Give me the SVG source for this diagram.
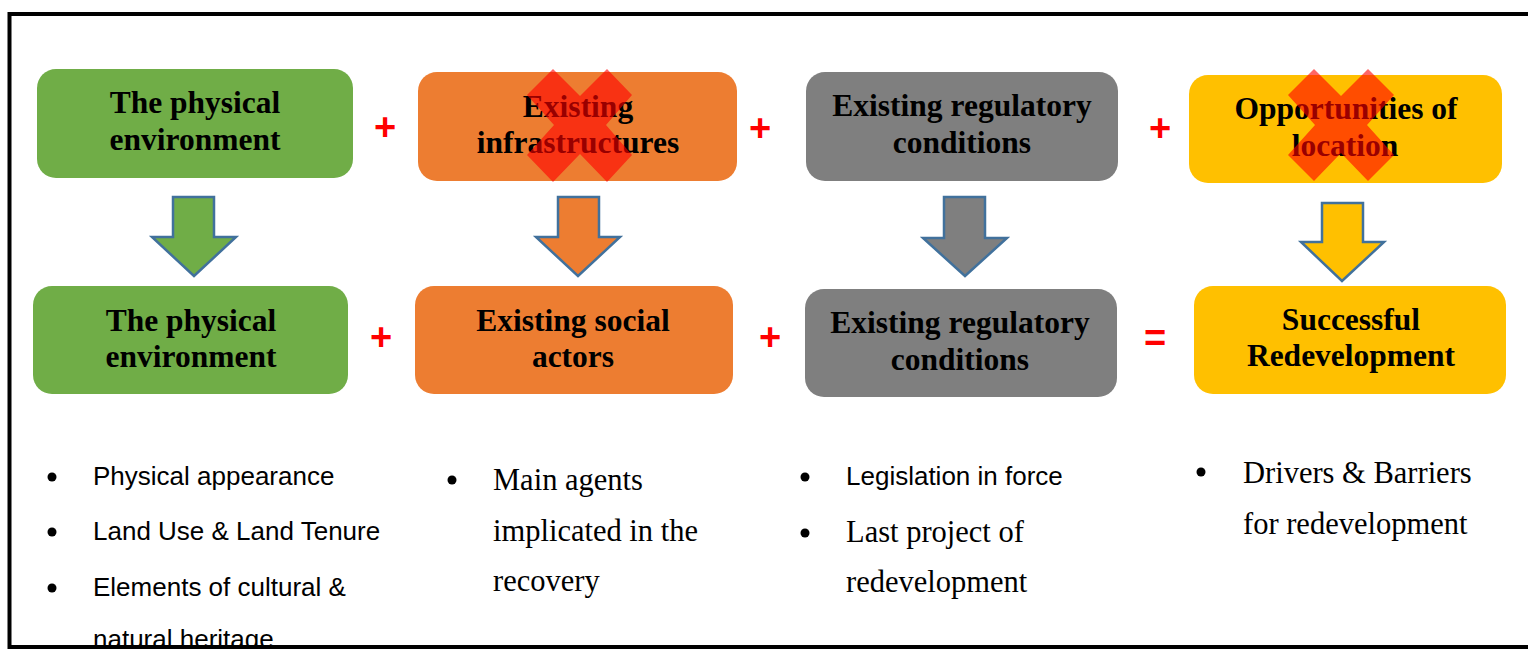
<svg xmlns="http://www.w3.org/2000/svg" width="1528" height="649" viewBox="0 0 1528 649">
<style>
.box{stroke:none}
.g{fill:#70AD47}.o{fill:#ED7D31}.k{fill:#7F7F7F}.y{fill:#FFC000}
.t{font-family:"Liberation Serif",serif;font-weight:bold;font-size:31.5px;fill:#000;text-anchor:middle}
.op{font-family:"Liberation Sans",Arial,sans-serif;font-weight:bold;font-size:38px;fill:#FF0000;text-anchor:middle}
.arr{stroke:#41719C;stroke-width:2.5;stroke-linejoin:miter}
.x{fill:#FF0000;fill-opacity:0.6}
.bs{font-family:"Liberation Sans",Arial,sans-serif;font-size:26px;fill:#000}
.bf{font-family:"Liberation Serif",serif;font-size:30.5px;fill:#000}
.dot{fill:#000}
</style>
<rect x="0" y="0" width="1528" height="649" fill="#fff"/>

<g id="row1-physical">
<rect class="box g" x="37" y="69" width="316" height="109" rx="19"/>
<text class="t" x="195" y="113">The physical</text>
<text class="t" x="195" y="150">environment</text>
</g>
<g id="row1-infra">
<rect class="box o" x="418" y="72" width="319" height="109" rx="19"/>
<text class="t" x="578" y="117">Existing</text>
<text class="t" x="578" y="153">infrastructures</text>
<polygon class="x" points="553,69 580,96 607,69 632,95 606,125 632,155 607,182 580,154 553,182 527,155 554,125 527,95"/>
</g>
<g id="row1-regulatory">
<rect class="box k" x="806" y="72" width="312" height="109" rx="19"/>
<text class="t" x="962" y="116">Existing regulatory</text>
<text class="t" x="962" y="153">conditions</text>
</g>
<g id="row1-location">
<rect class="box y" x="1189" y="75" width="313" height="108" rx="19"/>
<text class="t" x="1346" y="119">Opportunities of</text>
<text class="t" x="1345" y="156">location</text>
<polygon class="x" points="1314,69 1341,96 1368,69 1394,95 1367,125 1394,155 1368,181 1341,153 1314,181 1288,155 1315,125 1288,95"/>
</g>

<g id="row2-physical">
<rect class="box g" x="33" y="286" width="315" height="108" rx="19"/>
<text class="t" x="191" y="331">The physical</text>
<text class="t" x="191" y="367">environment</text>
</g>
<g id="row2-social">
<rect class="box o" x="415" y="286" width="318" height="108" rx="19"/>
<text class="t" x="573" y="331">Existing social</text>
<text class="t" x="573" y="367">actors</text>
</g>
<g id="row2-regulatory">
<rect class="box k" x="805" y="289" width="312" height="108" rx="19"/>
<text class="t" x="960" y="333">Existing regulatory</text>
<text class="t" x="960" y="370">conditions</text>
</g>
<g id="row2-success">
<rect class="box y" x="1194" y="286" width="312" height="108" rx="19"/>
<text class="t" x="1351" y="330">Successful</text>
<text class="t" x="1351" y="366">Redevelopment</text>
</g>

<g id="connectors">
<polygon class="arr" fill="#70AD47" points="173,197 214,197 214,237 236,237 194,276 152,237 173,237"/>
<polygon class="arr" fill="#ED7D31" points="558,197 599,197 599,237 620,237 578,276 536,237 558,237"/>
<polygon class="arr" fill="#7F7F7F" points="944,197 985,197 985,238 1007,238 965,276 923,238 944,238"/>
<polygon class="arr" fill="#FFC000" points="1322,203 1363,203 1363,242 1384,242 1342,281 1301,242 1322,242"/>
<text class="op" x="385" y="140">+</text>
<text class="op" x="760" y="141">+</text>
<text class="op" x="1160" y="141">+</text>
<text class="op" x="381" y="350">+</text>
<text class="op" x="770" y="350">+</text>
<text class="op" x="1155" y="351">=</text>
</g>

<g id="list1">
<circle class="dot" cx="52" cy="477" r="4.5"/>
<text class="bs" x="93" y="485">Physical appearance</text>
<circle class="dot" cx="52" cy="532" r="4.5"/>
<text class="bs" x="93" y="540">Land Use &amp; Land Tenure</text>
<circle class="dot" cx="52" cy="588" r="4.5"/>
<text class="bs" x="93" y="596">Elements of cultural &amp;</text>
<text class="bs" x="93" y="648">natural heritage</text>
</g>
<g id="list2">
<circle class="dot" cx="452" cy="480" r="4.5"/>
<text class="bf" x="493" y="490">Main agents</text>
<text class="bf" x="493" y="541">implicated in the</text>
<text class="bf" x="493" y="591">recovery</text>
</g>
<g id="list3">
<circle class="dot" cx="805" cy="477" r="4.5"/>
<text class="bs" x="846" y="485">Legislation in force</text>
<circle class="dot" cx="805" cy="533" r="4.5"/>
<text class="bf" x="846" y="542">Last project of</text>
<text class="bf" x="846" y="592">redevelopment</text>
</g>
<g id="list4">
<circle class="dot" cx="1201" cy="472" r="4.5"/>
<text class="bf" x="1243" y="483">Drivers &amp; Barriers</text>
<text class="bf" x="1243" y="534">for redevelopment</text>
</g>

<rect id="frame" x="9.5" y="14" width="1530" height="633" fill="none" stroke="#000" stroke-width="4"/>
</svg>
